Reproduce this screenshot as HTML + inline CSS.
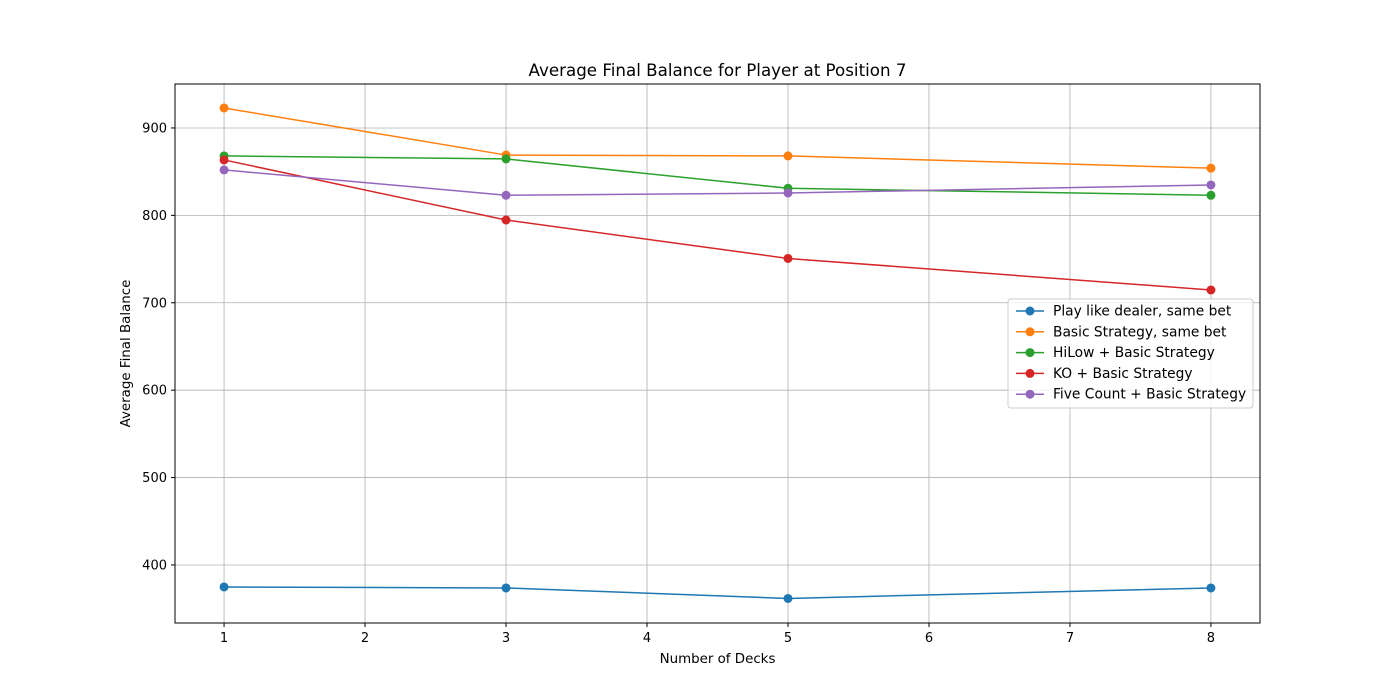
<!DOCTYPE html>
<html><head><meta charset="utf-8"><style>
body{margin:0;background:#fff;}
svg{display:block;font-family:"DejaVu Sans","Liberation Sans",sans-serif;}
</style></head><body>
<svg id="chart" width="1400" height="700">
<rect x="0" y="0" width="1400" height="700" fill="#fff"/>
<text x="717.5" y="76" text-anchor="middle" font-size="16.7">Average Final Balance for Player at Position 7</text>
<g id="grid"></g><g id="axes"></g><g id="series"></g>
<rect x="175" y="84" width="1085" height="539" fill="none" stroke="#000" stroke-width="1"/>
<text x="717.5" y="663" text-anchor="middle" font-size="13.4">Number of Decks</text>
<text transform="translate(130,353.5) rotate(-90)" text-anchor="middle" font-size="13.4">Average Final Balance</text>
<g id="legend"></g>
</svg>
<script>
const decks=[1,3,5,8];
const seriesNames=["Play like dealer, same bet","Basic Strategy, same bet","HiLow + Basic Strategy","KO + Basic Strategy","Five Count + Basic Strategy"];
const dealerVals=[374.8,373.7,361.7,373.7];
const basicVals=[922.9,869,868,854];
const hilowVals=[868,864.6,831,823];
const koVals=[863.4,794.7,750.7,714.6];
const fiveVals=[852,823,825.6,834.8];
const xTicks=[1,2,3,4,5,6,7,8];
const yTicks=[400,500,600,700,800,900];
const colors=["#1f77b4","#ff7f0e","#2ca02c","#d62728","#9467bd"];
const allVals=[dealerVals,basicVals,hilowVals,koVals,fiveVals];
const NS="http://www.w3.org/2000/svg";
const L=175,R=1260,T=84,B=623,xmin=0.652,xmax=8.348,ymin=333.6,ymax=950.3;
const xs=v=>L+(v-xmin)/(xmax-xmin)*(R-L);
const ys=v=>B-(v-ymin)/(ymax-ymin)*(B-T);
function mk(tag,attrs,parent){const e=document.createElementNS(NS,tag);for(const k in attrs)e.setAttribute(k,attrs[k]);parent.appendChild(e);return e;}
const grid=document.getElementById('grid'),axes=document.getElementById('axes'),ser=document.getElementById('series'),leg=document.getElementById('legend');
xTicks.forEach(t=>{const x=xs(t);
 let g=mk('line',{x1:x,x2:x,y1:T,y2:B,stroke:'#b0b0b0','stroke-width':0.8},grid);
 
 mk('line',{x1:x,x2:x,y1:B,y2:B+4,stroke:'#000'},axes);
 let tx=mk('text',{x:x,y:B+19,'text-anchor':'middle','font-size':13},axes);tx.textContent=t;
 });
yTicks.forEach(t=>{const y=ys(t);
 let g=mk('line',{x1:L,x2:R,y1:y,y2:y,stroke:'#b0b0b0','stroke-width':0.8},grid);
 
 mk('line',{x1:L-4,x2:L,y1:y,y2:y,stroke:'#000'},axes);
 let tx=mk('text',{x:L-8,y:y+4.5,'text-anchor':'end','font-size':13},axes);tx.textContent=t;
 });
allVals.forEach((vals,i)=>{
 const g=mk('g',{},ser);
 
 const pl=mk('polyline',{points:decks.map((d,j)=>xs(d)+','+ys(vals[j])).join(' '),fill:'none',stroke:colors[i],'stroke-width':1.5},g);
 
 decks.forEach((d,j)=>{const c=mk('circle',{cx:xs(d),cy:ys(vals[j]),r:4.5,fill:colors[i]},g);
  });
});
const lb=mk('rect',{x:1008,y:299,width:245,height:109,rx:3,fill:'#fff','fill-opacity':0.8,stroke:'#ccc'},leg);

seriesNames.forEach((n,i)=>{const y=311+i*20.8;
 const g=mk('g',{},leg);
 mk('line',{x1:1016,x2:1044,y1:y,y2:y,stroke:colors[i],'stroke-width':1.5},g);
 mk('circle',{cx:1030,cy:y,r:4.5,fill:colors[i]},g);
 const t=mk('text',{x:1053,y:y+4.5,'font-size':13.8},g);t.textContent=n;});
</script>
</body></html>
